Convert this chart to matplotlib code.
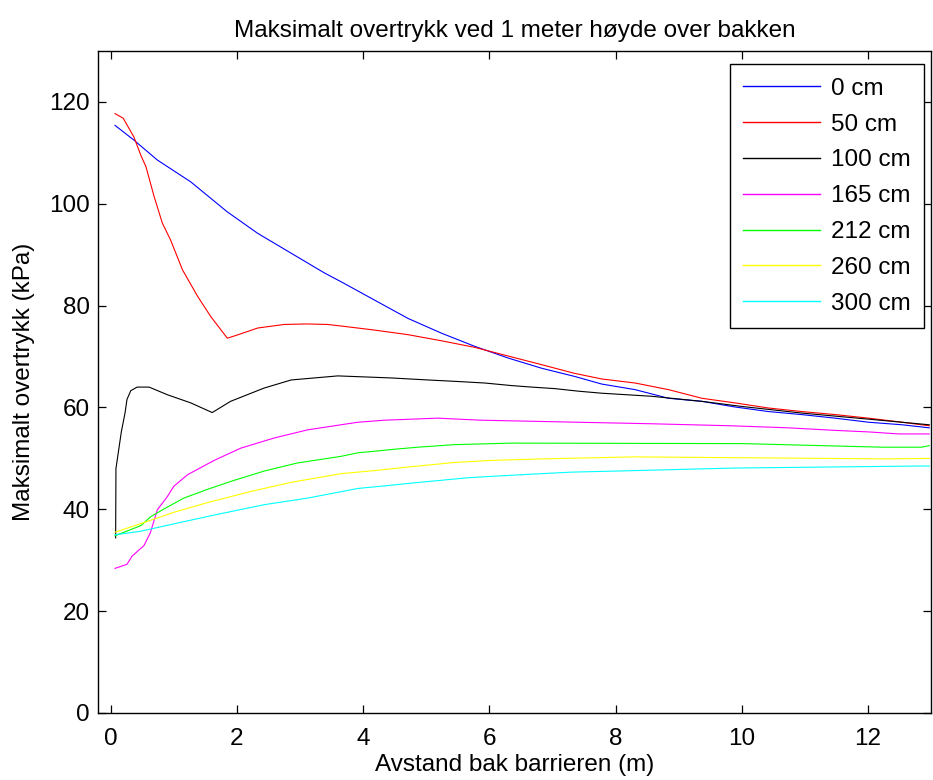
import matplotlib
matplotlib.use("Agg")
import matplotlib.pyplot as plt

plt.rcParams['font.family'] = ['Liberation Sans', 'DejaVu Sans']

title = "Maksimalt overtrykk ved 1 meter høyde over bakken"
xlabel = "Avstand bak barrieren (m)"
ylabel = "Maksimalt overtrykk (kPa)"

labels = ["0 cm", "50 cm", "100 cm", "165 cm", "212 cm", "260 cm", "300 cm"]
colors = ["#0000ff", "#ff0000", "#000000", "#ff00ff", "#00ff00", "#ffff00", "#00ffff"]

x_0 = [0.07, 0.37, 0.74, 1.27, 1.85, 2.33, 2.86, 3.39, 3.65, 4.18, 4.71, 5.24, 5.77, 6.3, 6.83,
       7.35, 7.78, 8.31, 8.84, 9.37, 9.89, 10.42, 10.95, 11.48, 12.01, 12.54, 12.97]
y_0 = [115.4, 112.5, 108.6, 104.3, 98.4, 94.2, 90.3, 86.4, 84.7, 81.1, 77.5, 74.6, 72.0, 69.7, 67.7,
       66.1, 64.6, 63.5, 61.8, 61.2, 60.1, 59.2, 58.6, 57.9, 57.1, 56.6, 56.0]

x_50 = [0.07, 0.2, 0.37, 0.48, 0.56, 0.69, 0.82, 0.95, 1.14, 1.38, 1.59, 1.85, 2.0, 2.33, 2.75,
        3.1, 3.44, 3.65, 4.18, 4.71, 5.24, 5.77, 6.3, 6.83, 7.35, 7.78, 8.31, 8.84, 9.37, 9.89,
        10.42, 10.95, 11.48, 12.01, 12.54, 12.97]
y_50 = [117.7, 116.8, 113.1, 109.5, 107.3, 101.4, 96.2, 92.9, 87.0, 81.8, 77.8, 73.6, 74.2, 75.6, 76.3,
        76.4, 76.3, 76.0, 75.2, 74.3, 73.1, 71.8, 70.1, 68.4, 66.7, 65.6, 64.8, 63.5, 61.8, 60.9,
        59.9, 59.2, 58.6, 57.9, 57.1, 56.4]

x_100 = [0.08, 0.085, 0.17, 0.23, 0.26, 0.32, 0.42, 0.61, 0.9, 1.27, 1.61, 1.9, 2.43, 2.86, 3.6,
         4.44, 5.03, 5.5, 5.93, 6.35, 6.67, 7.04, 7.41, 7.78, 8.57, 9.37, 10.0, 10.95, 12.01, 12.97]
y_100 = [34.4, 48.0, 55.2, 59.0, 61.6, 63.3, 64.0, 64.0, 62.5, 60.9, 59.0, 61.2, 63.8, 65.4, 66.2,
         65.8, 65.4, 65.1, 64.8, 64.3, 64.0, 63.7, 63.2, 62.8, 62.2, 61.2, 60.2, 58.9, 57.7, 56.6]

x_165 = [0.07, 0.26, 0.34, 0.53, 0.63, 0.74, 0.9, 1.0, 1.22, 1.64, 2.06, 2.59, 3.12, 3.65, 3.92,
         4.34, 5.18, 5.87, 7.41, 8.57, 9.84, 10.74, 11.48, 12.01, 12.49, 12.97]
y_165 = [28.4, 29.2, 30.8, 32.9, 35.4, 39.9, 42.5, 44.5, 46.8, 49.6, 52.0, 54.0, 55.6, 56.6, 57.1,
         57.5, 57.9, 57.5, 57.1, 56.8, 56.4, 56.0, 55.5, 55.2, 54.8, 54.8]

x_212 = [0.07, 0.48, 0.63, 0.85, 1.16, 1.53, 1.96, 2.43, 2.96, 3.65, 3.92, 4.18, 4.5, 4.87, 5.45,
         6.35, 10.03, 12.22, 12.85, 12.97]
y_212 = [34.8, 36.8, 38.5, 40.1, 42.2, 43.9, 45.7, 47.5, 49.1, 50.4, 51.1, 51.4, 51.8, 52.2, 52.7,
         53.0, 52.9, 52.2, 52.2, 52.5]

x_260 = [0.07, 0.48, 1.0, 1.53, 2.22, 2.86, 3.65, 4.18, 4.71, 5.45, 6.03, 6.83, 8.3, 12.3, 12.97]
y_260 = [35.5, 37.2, 39.4, 41.3, 43.5, 45.3, 47.0, 47.6, 48.3, 49.2, 49.6, 49.9, 50.3, 49.9, 50.0]

x_300 = [0.07, 0.48, 1.06, 1.69, 2.43, 3.12, 3.92, 4.34, 4.81, 5.24, 5.66, 6.08, 6.67, 7.3, 8.3,
         9.86, 12.8, 12.97]
y_300 = [35.0, 35.7, 37.3, 39.0, 40.9, 42.2, 44.1, 44.6, 45.2, 45.7, 46.2, 46.5, 46.9, 47.3, 47.6,
         48.1, 48.5, 48.5]

xs = [x_0, x_50, x_100, x_165, x_212, x_260, x_300]
ys = [y_0, y_50, y_100, y_165, y_212, y_260, y_300]

xticks = [0, 2, 4, 6, 8, 10, 12]
yticks = [0, 20, 40, 60, 80, 100, 120]

fig = plt.figure(figsize=(9.33, 7.80), dpi=100)
ax = fig.add_axes([0.105, 0.0859, 0.893, 0.8487])

for xv, yv, c, lab in zip(xs, ys, colors, labels):
    ax.plot(xv, yv, color=c, lw=0.8, label=lab)

ax.set_xlim(-0.2, 13)
ax.set_ylim(0, 130)
ax.set_xticks(xticks)
ax.set_yticks(yticks)
ax.tick_params(direction='in', length=6, width=0.9, top=True, right=True,
               labelsize=17.5)
ax.tick_params(axis='x', pad=11)
ax.tick_params(axis='y', pad=6)
for s in ax.spines.values():
    s.set_linewidth(1.0)

ax.set_title(title, fontsize=17.5, pad=10)
ax.set_xlabel(xlabel, fontsize=17.5, labelpad=3)
ax.set_ylabel(ylabel, fontsize=17.5, labelpad=10)

leg = ax.legend(loc='upper right', bbox_to_anchor=(0.9916, 0.980), borderaxespad=0,
                fancybox=False, edgecolor='black', framealpha=1, fontsize=17.5,
                handlelength=3.17, handletextpad=0.45, labelspacing=0.57,
                borderpad=0.55)
leg.get_frame().set_linewidth(1.0)
for line in leg.get_lines():
    line.set_linewidth(1.0)

fig.savefig("out.png", dpi=100)
